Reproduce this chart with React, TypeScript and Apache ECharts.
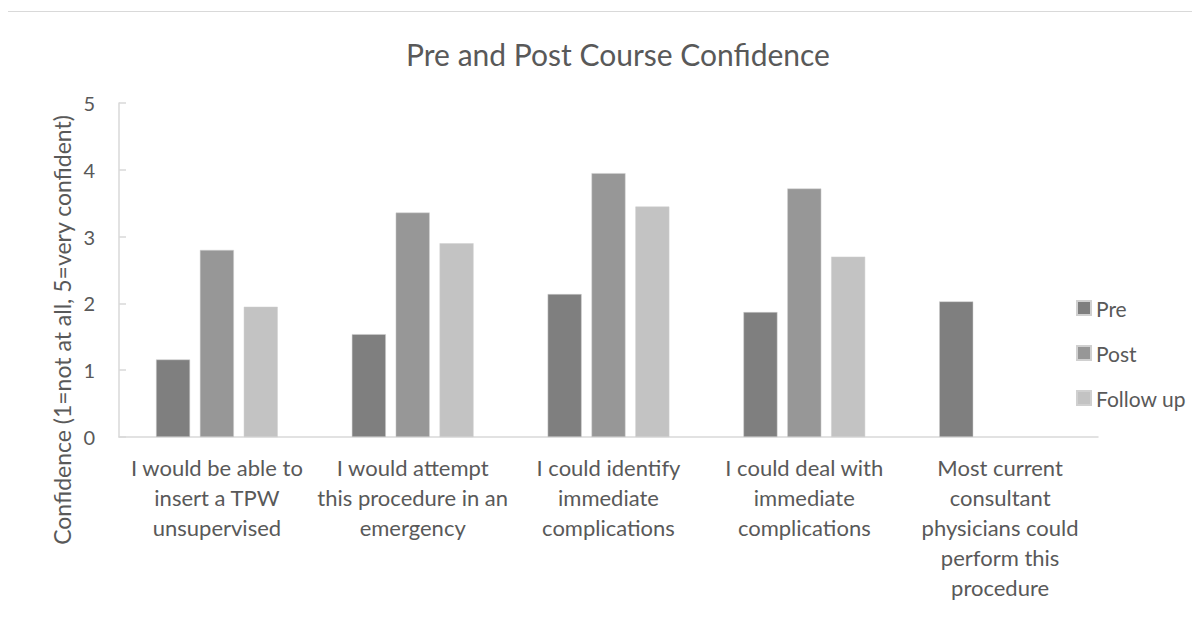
import React, { useEffect, useRef } from "react";
import * as echarts from "echarts";

const categories = [
  "I would be able to\ninsert a TPW\nunsupervised",
  "I would attempt\nthis procedure in an\nemergency",
  "I could identify\nimmediate\ncomplications",
  "I could deal with\nimmediate\ncomplications",
  "Most current\nconsultant\nphysicians could\nperform this\nprocedure",
];
const preValues = [1.16, 1.54, 2.14, 1.87, 2.03];
const postValues = [2.8, 3.36, 3.95, 3.72, null];
const followUpValues = [1.95, 2.9, 3.45, 2.7, null];
const yTicks = [0, 1, 2, 3, 4, 5];

const FONT = "Lato, 'Open Sans', sans-serif";

export default function App() {
  const ref = useRef<HTMLDivElement>(null);
  useEffect(() => {
    if (!ref.current) return;
    const chart = echarts.init(ref.current, undefined, { renderer: "svg" });
    const barStyle = (c: string) => ({ color: c, borderColor: "#d0d0d0", borderWidth: 0.5 });
    chart.setOption({
      animation: false,
      backgroundColor: "#ffffff",
      textStyle: { fontFamily: FONT },
      title: {
        text: "Pre and Post Course Confidence",
        left: 613,
        textAlign: "center",
        top: 34,
        textStyle: { fontFamily: FONT, fontSize: 30, fontWeight: "normal", color: "#595959" },
      },
      legend: {
        orient: "vertical",
        left: 1071,
        top: 292,
        itemWidth: 14,
        itemHeight: 14,
        itemGap: 23,
        icon: "rect",
        textStyle: { fontFamily: FONT, fontSize: 21, lineHeight: 22, color: "#595959" },
        data: ["Pre", "Post", "Follow up"],
      },
      grid: { left: 119, right: 102, top: 103, bottom: 182, containLabel: false },
      xAxis: {
        type: "category",
        data: categories,
        axisLine: { show: true, lineStyle: { color: "#d9d9d9", width: 1.5 } },
        axisTick: { show: false },
        axisLabel: {
          interval: 0,
          margin: 15,
          fontFamily: FONT,
          fontSize: 22,
          lineHeight: 30,
          color: "#595959",
          align: "center",
        },
      },
      yAxis: {
        type: "value",
        min: 0,
        max: 5,
        interval: 1,
        axisLine: { show: true, lineStyle: { color: "#d9d9d9", width: 1.5 } },
        axisTick: { show: true, inside: true, length: 7, lineStyle: { color: "#d9d9d9", width: 1.5 } },
        splitLine: { show: false },
        axisLabel: {
          margin: 24,
          fontFamily: FONT,
          fontSize: 20,
          color: "#595959",
          formatter: (v: number) => (yTicks.includes(v) ? String(v) : ""),
        },
      },
      graphic: [
        {
          type: "rect",
          shape: { x: 7.5, y: 11.5, width: 1400, height: 800 },
          style: { fill: "none", stroke: "#d9d9d9", lineWidth: 1 },
          silent: true,
        },
        {
          type: "text",
          x: 62,
          y: 330,
          rotation: Math.PI / 2,
          style: {
            text: "Confidence (1=not at all, 5=very confident)",
            fontFamily: FONT,
            fontSize: 23,
            fill: "#595959",
            textAlign: "center",
            textVerticalAlign: "middle",
          },
        },
      ],
      series: [
        { name: "Pre", type: "bar", data: preValues, barWidth: 34, barGap: "29%", itemStyle: barStyle("#7f7f7f") },
        { name: "Post", type: "bar", data: postValues, barWidth: 34, barGap: "29%", itemStyle: barStyle("#979797") },
        { name: "Follow up", type: "bar", data: followUpValues, barWidth: 34, barGap: "29%", itemStyle: barStyle("#c3c3c3") },
      ],
    });
    return () => chart.dispose();
  }, []);
  return <div ref={ref} style={{ width: 1200, height: 619, margin: -8 }} />;
}
